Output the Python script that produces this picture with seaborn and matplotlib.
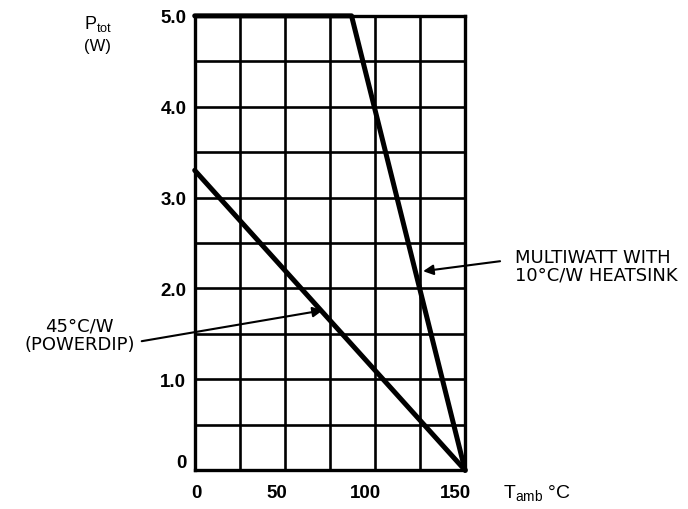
import matplotlib
matplotlib.use("Agg")
import matplotlib.pyplot as plt
import matplotlib.transforms as mtrans
import seaborn as sns
import pandas as pd

# Data
multiwatt_T = [0, 87, 150]
multiwatt_P = [5.0, 5.0, 0.0]
powerdip_T = [0, 150]
powerdip_P = [3.3, 0.0]
x_ticks = [0, 50, 100, 150]
x_tick_labels = ["0", "50", "100", "150"]
y_ticks = [0, 1, 2, 3, 4, 5]
y_tick_labels = ["0", "1.0", "2.0", "3.0", "4.0", "5.0"]

sns.set_theme(style="white")
plt.rcParams['font.family'] = ['Liberation Sans', 'DejaVu Sans']
plt.rcParams['text.color'] = 'black'
plt.rcParams['xtick.color'] = 'black'
plt.rcParams['ytick.color'] = 'black'
plt.rcParams['xtick.labelcolor'] = 'black'
plt.rcParams['ytick.labelcolor'] = 'black'

fig = plt.figure(figsize=(6.88, 5.10), dpi=100)
ax = fig.add_axes([0.283, 0.076, 0.393, 0.891])

df_m = pd.DataFrame({"T": multiwatt_T, "P": multiwatt_P})
df_p = pd.DataFrame({"T": powerdip_T, "P": powerdip_P})
sns.lineplot(data=df_m, x="T", y="P", ax=ax, color="black", lw=3.6,
             solid_capstyle="round", clip_on=False, zorder=5)
sns.lineplot(data=df_p, x="T", y="P", ax=ax, color="black", lw=3.6,
             solid_capstyle="round", clip_on=False, zorder=5)

ax.set_xlim(0, 150)
ax.set_ylim(0, 5)
ax.set_xticks(x_ticks)
ax.set_xticklabels(x_tick_labels)
ax.set_yticks(y_ticks)
ax.set_yticklabels(y_tick_labels)
ax.set_xticks([25, 75, 125], minor=True)
ax.set_yticks([0.5, 1.5, 2.5, 3.5, 4.5], minor=True)
ax.grid(True, which="both", color="black", lw=1.9)
ax.tick_params(which="both", length=0, labelsize=13.5, labelcolor="black")
ax.tick_params(axis="y", pad=6)
ax.tick_params(axis="x", pad=10)
for lab in ax.get_xticklabels() + ax.get_yticklabels():
    lab.set_fontweight("bold")

# small label offsets as in the reference (in pixels)
x_off = [2, -8, -10, -10]
for lab, dx in zip(ax.get_xticklabels(), x_off):
    lab.set_transform(lab.get_transform() +
                      mtrans.ScaledTranslation(dx / 100, 0, fig.dpi_scale_trans))
y_labs = ax.get_yticklabels()
y_labs[0].set_transform(y_labs[0].get_transform() +
                        mtrans.ScaledTranslation(0, 10 / 100, fig.dpi_scale_trans))

for s in ax.spines.values():
    s.set_color("black")
    s.set_linewidth(2.4)
ax.set_xlabel("")
ax.set_ylabel("")

# axis titles
fig.text(84 / 688, 1 - 24 / 510, r"P$_{\mathregular{tot}}$", fontsize=13,
         ha="left", va="center", color="black")
fig.text(84 / 688, 1 - 47 / 510, "(W)", fontsize=12, ha="left", va="center",
         color="black")
fig.text(503 / 688, 1 - 494 / 510, r"T$_{\mathregular{amb}}$ °C", fontsize=14,
         ha="left", va="center", color="black")

# annotations
ann_font = ['DejaVu Sans']
ax.annotate("", xy=(126.7, 2.19), xytext=(169.4, 2.30),
            arrowprops=dict(arrowstyle="-|>", color="black", lw=1.5,
                            mutation_scale=15, shrinkA=0, shrinkB=0),
            annotation_clip=False)
ax.text(177.8, 2.25, "MULTIWATT WITH\n10°C/W HEATSINK", fontsize=13,
        family=ann_font, ha="left", va="center", linespacing=1.0,
        clip_on=False, color="black")
ax.annotate("", xy=(71.1, 1.76), xytext=(-29.4, 1.42),
            arrowprops=dict(arrowstyle="-|>", color="black", lw=1.5,
                            mutation_scale=15, shrinkA=0, shrinkB=0),
            annotation_clip=False)
ax.text(-63.9, 1.49, "45°C/W\n(POWERDIP)", fontsize=13,
        family=ann_font, ha="center", va="center", linespacing=1.0,
        clip_on=False, color="black")

fig.savefig("out.png", dpi=100)
